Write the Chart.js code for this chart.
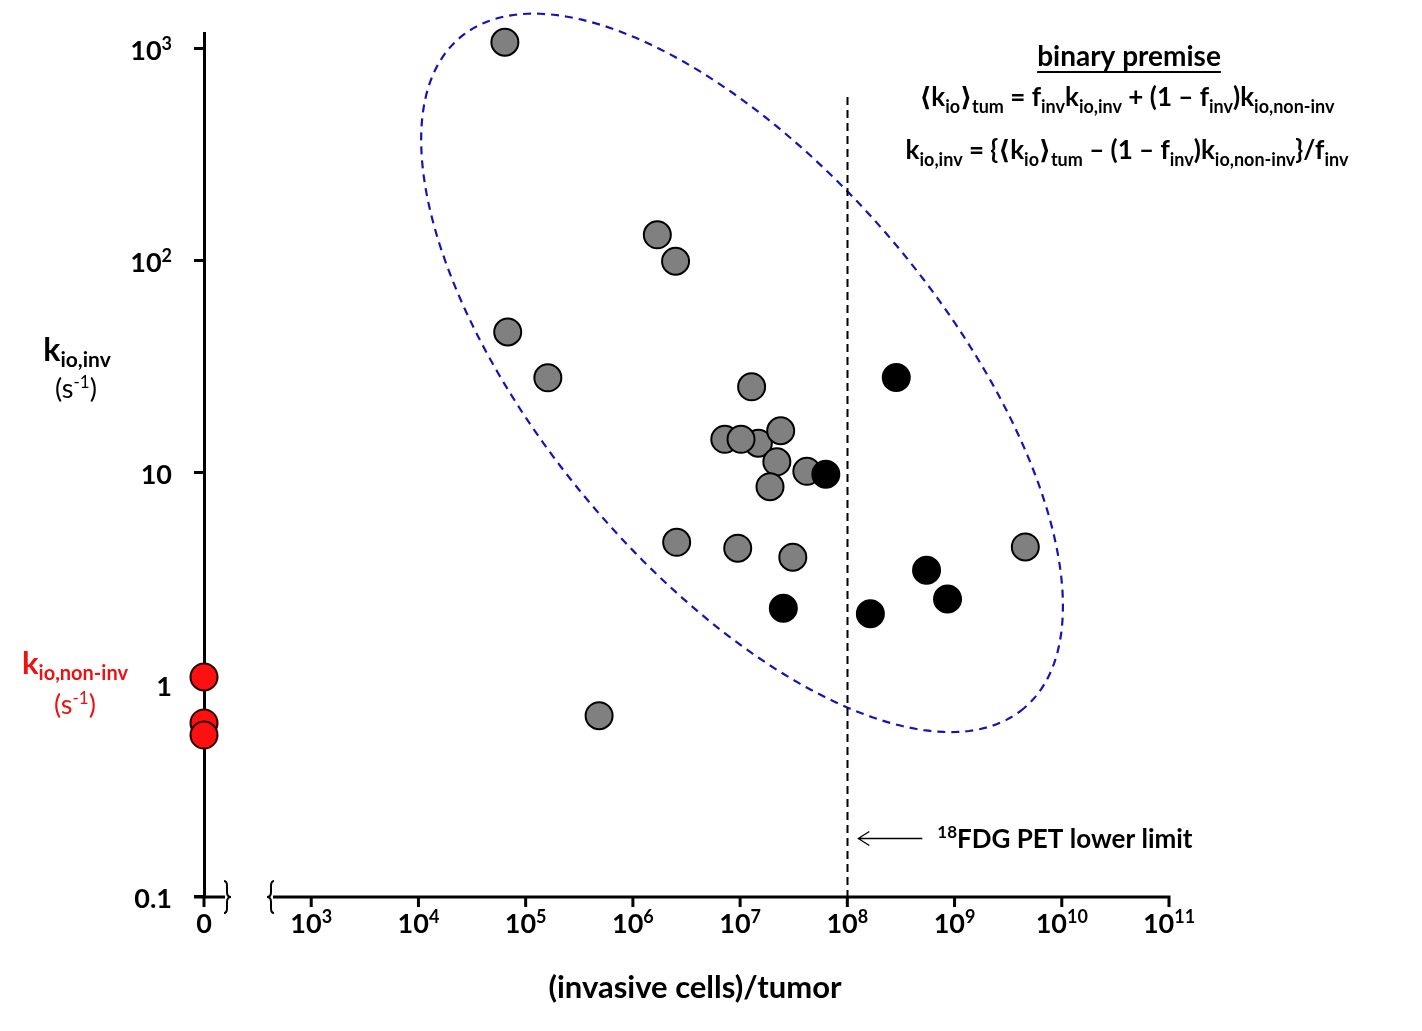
<!DOCTYPE html>
<html lang="en">
<head>
    <meta charset="UTF-8">
    <title>k io,inv vs invasive cells per tumor</title>
    <script src="https://cdn.jsdelivr.net/npm/chart.js"></script>
    <style>
        html, body { margin: 0; padding: 0; background: #fff; }
        #wrap { width: 1422px; height: 1031px; position: relative; }
    </style>
</head>
<body>
    <div id="wrap"><canvas id="chart"></canvas></div>
    <script>
        // x value that stands for "0" on the broken axis (left end of the scale)
        const ZERO_X = 100;

        // tumors inside the ellipse (grey)
        const grayX = [6.4e4, 1.69e6, 2.5e6, 6.8e4, 1.61e5, 1.28e7, 7.2e6, 1.48e7, 1.02e7, 2.39e7, 2.2e7, 1.9e7, 4.19e7, 2.56e6, 9.5e6, 3.1e7, 4.84e5, 4.57e9];
        const grayY = [1070, 132, 99, 45.9, 27.9, 25.3, 14.3, 13.7, 14.3, 15.7, 11.2, 8.55, 10.1, 4.67, 4.38, 3.97, 0.71, 4.44];

        // black points
        const blackX = [6.3e7, 2.86e8, 2.53e7, 1.64e8, 5.48e8, 8.6e8];
        const blackY = [9.79, 28.0, 2.28, 2.15, 3.45, 2.52];

        // non-invasive values sit at x = 0
        const redY = [1.08, 0.656, 0.575];

        const xTickValues = [1e3, 1e4, 1e5, 1e6, 1e7, 1e8, 1e9, 1e10, 1e11];
        const xTickLabels = ['10^3', '10^4', '10^5', '10^6', '10^7', '10^8', '10^9', '10^10', '10^11'];
        const yTickValues = [0.1, 1, 10, 100, 1000];
        const yTickLabels = ['0.1', '1', '10', '10^2', '10^3'];

        const PET_LIMIT = 1e8;
        const PET_LINE_TOP = 590;
        const PET_ARROW_Y = 0.188;

        // dashed ellipse, in decades: centre, major and minor half-axis vectors
        const ellipseCenter = [7.018, 1.469];
        const ellipseU = [2.629, -1.583];
        const ellipseV = [-1.430, -0.607];

        const FONT = "Lato, 'Open Sans', 'DejaVu Sans', sans-serif";
        const RED = '#ee1111';

        // draws a run of [text, size, baselineShift, weight] pieces
        function rich(ctx, parts, x, y, align, color) {
            let total = 0;
            parts.forEach(p => {
                ctx.font = (p[3] || 'bold') + ' ' + p[1] + 'px ' + FONT;
                total += ctx.measureText(p[0]).width;
            });
            let cx = x;
            if (align === 'center') cx = x - total / 2;
            if (align === 'right') cx = x - total;
            ctx.fillStyle = color || '#000';
            ctx.textBaseline = 'alphabetic';
            ctx.textAlign = 'left';
            parts.forEach(p => {
                ctx.font = (p[3] || 'bold') + ' ' + p[1] + 'px ' + FONT;
                ctx.fillText(p[0], cx, y + (p[2] || 0));
                cx += ctx.measureText(p[0]).width;
            });
            return { left: x - (align === 'center' ? total / 2 : align === 'right' ? total : 0), width: total };
        }

        function powerLabel(label, size) {
            const bits = label.split('^');
            if (bits.length === 1) return [[bits[0], size, 0]];
            return [[bits[0], size, 0], [bits[1], Math.round(size * 0.68), -Math.round(size * 0.36)]];
        }

        function brace(ctx, x, top, bot, dir) {
            const mid = (top + bot) / 2;
            const x0 = x - dir * 3, x2 = x + dir * 4;
            ctx.beginPath();
            ctx.moveTo(x0, top);
            ctx.quadraticCurveTo(x, top, x, top + 5);
            ctx.lineTo(x, mid - 5);
            ctx.quadraticCurveTo(x, mid, x2, mid);
            ctx.quadraticCurveTo(x, mid, x, mid + 5);
            ctx.lineTo(x, bot - 5);
            ctx.quadraticCurveTo(x, bot, x0, bot);
            ctx.stroke();
        }

        const backdrop = {
            id: 'backdrop',
            beforeDatasetsDraw(chart) {
                const ctx = chart.ctx;
                const xs = chart.scales.x, ys = chart.scales.y;
                const px = d => xs.getPixelForValue(Math.pow(10, d));
                const py = d => ys.getPixelForValue(Math.pow(10, d));
                ctx.save();
                // ellipse
                ctx.strokeStyle = '#1414b4';
                ctx.lineWidth = 2.2;
                ctx.setLineDash([8, 6]);
                ctx.beginPath();
                for (let i = 0; i <= 240; i++) {
                    const t = i / 240 * Math.PI * 2;
                    const dx = ellipseCenter[0] + ellipseU[0] * Math.cos(t) + ellipseV[0] * Math.sin(t);
                    const dy = ellipseCenter[1] + ellipseU[1] * Math.cos(t) + ellipseV[1] * Math.sin(t);
                    if (i === 0) ctx.moveTo(px(dx), py(dy)); else ctx.lineTo(px(dx), py(dy));
                }
                ctx.closePath();
                ctx.stroke();
                // PET lower limit
                const lx = Math.round(xs.getPixelForValue(PET_LIMIT)) + 0.5;
                ctx.strokeStyle = '#000';
                ctx.lineWidth = 2;
                ctx.setLineDash([8, 5]);
                ctx.beginPath();
                ctx.moveTo(lx, ys.getPixelForValue(PET_LINE_TOP));
                ctx.lineTo(lx, ys.bottom);
                ctx.stroke();
                ctx.restore();
            },
            afterDraw(chart) {
                const ctx = chart.ctx;
                const xs = chart.scales.x, ys = chart.scales.y;
                const axisY = ys.bottom + 1;
                const z = xs.getPixelForValue(ZERO_X);
                ctx.save();
                ctx.strokeStyle = '#000';
                ctx.lineWidth = 3;
                ctx.setLineDash([]);
                // broken x axis
                ctx.beginPath();
                ctx.moveTo(z - 10, axisY); ctx.lineTo(z + 21, axisY);
                ctx.moveTo(273, axisY); ctx.lineTo(xs.right + 1.5, axisY);
                [ZERO_X].concat(xTickValues).forEach(v => {
                    const x = xs.getPixelForValue(v);
                    ctx.moveTo(x, axisY); ctx.lineTo(x, axisY + 10);
                });
                ctx.stroke();
                ctx.lineWidth = 2;
                brace(ctx, 227, axisY - 16, axisY + 16, 1);
                brace(ctx, 271, axisY - 16, axisY + 16, -1);

                // tick labels
                rich(ctx, [['0', 27, 0]], z, axisY + 36, 'center');
                xTickLabels.forEach((lab, i) => {
                    rich(ctx, powerLabel(lab, 27), xs.getPixelForValue(xTickValues[i]), axisY + 36, 'center');
                });
                yTickLabels.forEach((lab, i) => {
                    rich(ctx, powerLabel(lab, 27), 172, ys.getPixelForValue(yTickValues[i]) + 12, 'right');
                });

                // axis titles
                rich(ctx, [['k', 32, 0], ['io,inv', 21, 6]], 77, 361, 'center');
                rich(ctx, [['(s', 27, 0, 'normal'], ['-1', 17, -10, 'normal'], [')', 27, 0, 'normal']], 76, 398, 'center');
                rich(ctx, [['k', 31, 0], ['io,non-inv', 20, 6]], 75, 674, 'center', RED);
                rich(ctx, [['(s', 27, 0, 'normal'], ['-1', 17, -10, 'normal'], [')', 27, 0, 'normal']], 75, 714, 'center', RED);
                rich(ctx, [['(invasive cells)/tumor', 31, 0]], 695, 998, 'center');

                // formulas
                const head = rich(ctx, [['binary premise', 28, 0]], 1129, 66, 'center');
                ctx.fillRect(head.left, 71, head.width, 2);
                const S = 26, s = 18, d = 7;
                rich(ctx, [['\u27E8k', S, 0], ['io', s, d], ['\u27E9', S, 0], ['tum', s, d], [' = f', S, 0], ['inv', s, d],
                    ['k', S, 0], ['io,inv', s, d], [' + (1 \u2013 f', S, 0], ['inv', s, d], [')k', S, 0], ['io,non-inv', s, d]], 1127, 106, 'center');
                rich(ctx, [['k', S, 0], ['io,inv', s, d], [' = {\u27E8k', S, 0], ['io', s, d], ['\u27E9', S, 0], ['tum', s, d],
                    [' \u2013 (1 \u2013 f', S, 0], ['inv', s, d], [')k', S, 0], ['io,non-inv', s, d], ['}/f', S, 0], ['inv', s, d]], 1127, 159, 'center');

                // PET arrow and label
                const lx = xs.getPixelForValue(PET_LIMIT);
                const ay = Math.round(ys.getPixelForValue(PET_ARROW_Y)) + 0.5;
                ctx.lineWidth = 1.3;
                ctx.beginPath();
                ctx.moveTo(lx + 75, ay); ctx.lineTo(lx + 11, ay);
                ctx.moveTo(lx + 22, ay - 7); ctx.lineTo(lx + 11, ay); ctx.lineTo(lx + 22, ay + 7);
                ctx.stroke();
                rich(ctx, [['18', 17, -10], ['FDG PET lower limit', 26, 0]], lx + 90, ay + 9, 'left');
                ctx.restore();
            }
        };

        const grayPts = grayX.map((x, i) => ({ x: x, y: grayY[i] }));
        const blackPts = blackX.map((x, i) => ({ x: x, y: blackY[i] }));
        const redPts = redY.map(y => ({ x: ZERO_X, y: y }));

        new Chart(document.getElementById('chart'), {
            type: 'scatter',
            data: {
                datasets: [
                    { label: 'non-invasive', data: redPts, order: 0, clip: false,
                      backgroundColor: '#ff1010', borderColor: '#2a0000', borderWidth: 2, pointRadius: 13.5 },
                    { label: 'black', data: blackPts, order: 1, clip: false,
                      backgroundColor: '#000', borderColor: '#000', borderWidth: 2, pointRadius: 13.5 },
                    { label: 'grey', data: grayPts, order: 2, clip: false,
                      backgroundColor: '#808080', borderColor: '#000', borderWidth: 2, pointRadius: 13.5 }
                ]
            },
            options: {
                responsive: true,
                maintainAspectRatio: false,
                animation: false,
                layout: { padding: { top: 33, right: 253, left: 0, bottom: 0 } },
                plugins: { legend: { display: false }, tooltip: { enabled: false } },
                scales: {
                    x: {
                        type: 'logarithmic', min: ZERO_X, max: 1e11,
                        afterFit: sc => { sc.height = 135; },
                        afterBuildTicks: sc => { sc.ticks = xTickValues.map(v => ({ value: v })); },
                        ticks: { display: false },
                        grid: { display: false },
                        border: { display: false }
                    },
                    y: {
                        type: 'logarithmic', min: 0.1, max: 1183,
                        afterFit: sc => { sc.width = 204; },
                        afterBuildTicks: sc => { sc.ticks = yTickValues.map(v => ({ value: v })); },
                        ticks: { display: false },
                        grid: { drawOnChartArea: false, drawTicks: true, tickLength: 10, lineWidth: 3, color: '#000' },
                        border: { display: true, color: '#000', width: 3 }
                    }
                }
            },
            plugins: [backdrop]
        });
    </script>
</body>
</html>
